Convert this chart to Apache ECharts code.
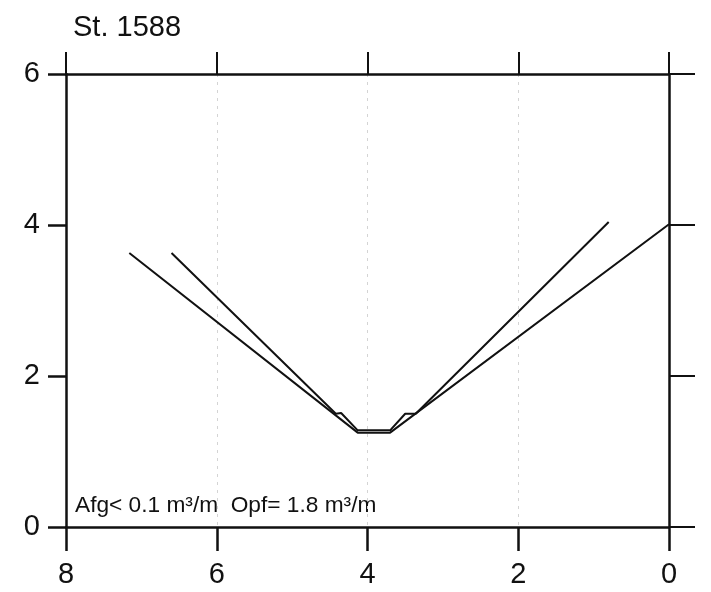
<!DOCTYPE html>
<html>
<head>
<meta charset="utf-8">
<script src="https://cdn.jsdelivr.net/npm/echarts@6/dist/echarts.min.js"></script>
<style>html,body{margin:0;padding:0;background:#fff}#c{width:711px;height:592px}</style>
</head>
<body>
<div id="c"></div>
<script>
var titleText = "St. 1588";
var noteText = "Afg< 0.1 m³/m  Opf= 1.8 m³/m";
var xTicks = [0, 2, 4, 6, 8];
var yTicks = [0, 2, 4, 6];
// outer profile (x = distance, y = depth)
var outerX = [7.16, 4.13, 3.70, 0.00];
var outerY = [3.63, 1.25, 1.25, 4.01];
// inner profile
var innerX = [6.60, 4.42, 4.35, 4.13, 3.70, 3.50, 3.36, 0.80];
var innerY = [3.63, 1.50, 1.51, 1.28, 1.28, 1.50, 1.50, 4.04];

function pairs(xs, ys) { return xs.map(function (x, i) { return [x, ys[i]]; }); }

var font = "Liberation Sans, Arial, Helvetica, sans-serif";
var black = "#111";
var chart = echarts.init(document.getElementById('c'), null, {renderer: 'canvas'});
chart.setOption({
  backgroundColor: '#fff',
  animation: false,
  title: {
    text: titleText, left: 68, top: 8,
    textStyle: {fontFamily: font, fontSize: 29, fontWeight: 'normal', color: black}
  },
  grid: {left: 66, right: 42, top: 74, bottom: 65},
  xAxis: [{
    type: 'value', position: 'bottom', inverse: true, min: 0, max: 8, interval: 2,
    axisLine: {show: true, onZero: false, lineStyle: {color: black, width: 2.5}},
    axisTick: {show: true, inside: false, length: 24, lineStyle: {color: black, width: 2.5}},
    axisLabel: {margin: 33, fontFamily: font, fontSize: 29, color: black},
    splitLine: {show: true, lineStyle: {color: '#d4d4d4', width: 1, type: [3, 5]}}
  }, {
    type: 'value', position: 'top', inverse: true, min: 0, max: 8, interval: 2,
    axisLine: {show: true, onZero: false, lineStyle: {color: black, width: 2.5}},
    axisTick: {show: true, inside: false, length: 22, lineStyle: {color: black, width: 2}},
    axisLabel: {show: false},
    splitLine: {show: false}
  }],
  yAxis: [{
    type: 'value', position: 'left', min: 0, max: 6, interval: 2,
    axisLine: {show: true, onZero: false, lineStyle: {color: black, width: 2.5}},
    axisTick: {show: true, inside: false, length: 18, lineStyle: {color: black, width: 2.5}},
    axisLabel: {margin: 26, fontFamily: font, fontSize: 29, color: black},
    splitLine: {show: false}
  }, {
    type: 'value', position: 'right', min: 0, max: 6, interval: 2,
    axisLine: {show: true, onZero: false, lineStyle: {color: black, width: 2.5}},
    axisTick: {show: true, inside: false, length: 26, lineStyle: {color: black, width: 2}},
    axisLabel: {show: false},
    splitLine: {show: false}
  }],
  series: [{
    type: 'line', xAxisIndex: 0, yAxisIndex: 0, data: pairs(outerX, outerY),
    showSymbol: false, lineStyle: {color: black, width: 2}
  }, {
    type: 'line', xAxisIndex: 0, yAxisIndex: 0, data: pairs(innerX, innerY),
    showSymbol: false, lineStyle: {color: black, width: 2}
  }],
  graphic: [{
    type: 'text', left: 75, top: 494,
    style: {text: noteText, font: '22.7px ' + font, fill: black}
  }]
});
</script>
</body>
</html>
